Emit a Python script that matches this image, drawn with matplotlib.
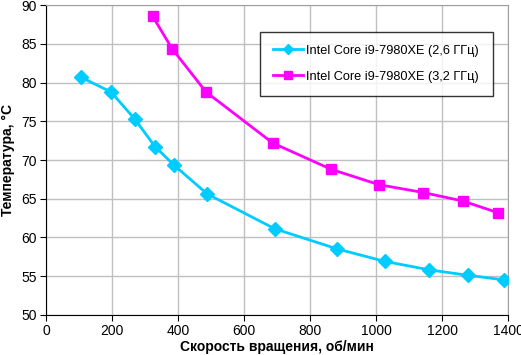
import matplotlib
matplotlib.use("Agg")
import matplotlib.pyplot as plt

plt.rcParams["font.family"] = ["Liberation Sans", "DejaVu Sans"]

rpm_26 = [105, 196, 268, 330, 388, 488, 693, 882, 1025, 1161, 1277, 1388]
temp_26 = [80.7, 78.8, 75.3, 71.7, 69.3, 65.6, 61.1, 58.5, 56.9, 55.8, 55.1, 54.5]
rpm_32 = [322, 381, 484, 686, 863, 1009, 1142, 1262, 1368]
temp_32 = [88.6, 84.4, 78.8, 72.2, 68.8, 66.8, 65.8, 64.7, 63.2]
labels = ["Intel Core i9-7980XE (2,6 ГГц)", "Intel Core i9-7980XE (3,2 ГГц)"]
x_ticks = list(range(0, 1401, 200))
y_ticks = list(range(50, 91, 5))

fig = plt.figure(figsize=(5.21, 3.55), dpi=100)
ax = fig.add_axes([0.0889, 0.1135, 0.8867, 0.8715])

ax.plot(rpm_26, temp_26, color="#00ccff", lw=2, marker="D", ms=7,
        label=labels[0], zorder=3)
ax.plot(rpm_32, temp_32, color="#ff00ff", lw=2, marker="s", ms=7,
        label=labels[1], zorder=3)

ax.set_xlim(0, 1400)
ax.set_ylim(50, 90)
ax.set_xticks(x_ticks)
ax.set_yticks(y_ticks)
ax.grid(True, color="#c0c0c0", lw=1)
ax.set_axisbelow(True)
for s in ["top", "right"]:
    ax.spines[s].set_color("#a0a0a0")
for s in ["left", "bottom"]:
    ax.spines[s].set_color("black")
ax.tick_params(labelsize=10, length=4, direction="out", pad=3)

ax.set_xlabel("Скорость вращения, об/мин", fontsize=10, fontweight="bold", labelpad=1)
ax.set_ylabel("Температура, °C", fontsize=10, fontweight="bold")
ax.yaxis.set_label_coords(-0.068, 0.5)

leg = ax.legend(loc="upper left", bbox_to_anchor=(0.4626, 0.72, 0.5044, 0.194),
                mode="expand", fontsize=9.2, frameon=True, fancybox=False,
                edgecolor="black", handlelength=2.4, handletextpad=0.2,
                labelspacing=1.1, borderpad=1.0, markerscale=0.8,
                borderaxespad=0)
leg.get_frame().set_linewidth(1)

fig.savefig("out.png", dpi=100)
plt.close()
